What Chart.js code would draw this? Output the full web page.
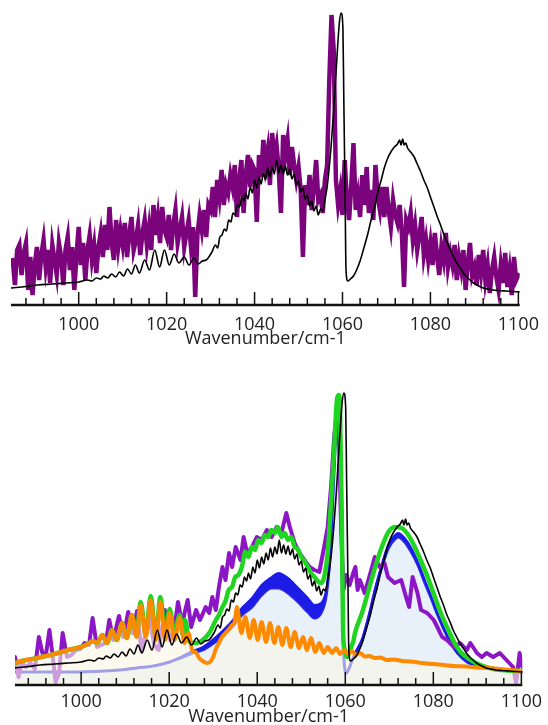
<!DOCTYPE html>
<html>
<head>
<meta charset="utf-8">
<script src="https://cdn.jsdelivr.net/npm/chart.js@4.4.1/dist/chart.umd.min.js"></script>
<style>
  body { margin: 0; background: #fff; }
  .box { position: absolute; left: 0; }
  #topBox { top: 0; }
  #botBox { top: 380px; }
</style>
</head>
<body>
<div class="box" id="topBox"><canvas id="topChart" width="548" height="350"></canvas></div>
<div class="box" id="botBox"><canvas id="botChart" width="548" height="345"></canvas></div>
<script>
// axis labels
var majorTicks = [1000, 1020, 1040, 1060, 1080, 1100];
var minorStep = 4;
var axisTitle = 'Wavenumber/cm-1';

// upper panel, measured spectrum (purple), sampled every 0.5 cm-1 from 985
var purpleTopStart = 985, purpleTopStep = 0.5;
var purpleTop = [
  45, 20, 55, 60, 30, 52, 62, 15, 48, 10,
  40, 58, 25, 50, 65, 38, 55, 22, 60, 45,
  30, 62, 48, 20, 55, 68, 35, 58, 15, 50,
  78, 40, 62, 25, 55, 70, 45, 60, 32, 58,
  72, 48, 80, 55, 98, 62, 45, 85, 58, 75,
  60, 82, 48, 70, 88, 55, 65, 80, 50, 72,
  85, 60, 78, 55, 100, 70, 88, 62, 98, 75,
  68, 90, 55, 80, 95, 62, 75, 88, 58, 72,
  85, 60, 78, 8, 70, 90, 75, 95, 68, 100,
  95, 118, 88, 125, 108, 135, 100, 120, 112, 130,
  118, 140, 88, 125, 145, 92, 130, 150, 118, 140,
  135, 83, 150, 128, 165, 140, 155, 120, 172, 148,
  160, 135, 92, 170, 150, 165, 130, 158, 140, 125,
  138, 115, 48, 120, 100, 130, 95, 118, 145, 105,
  110, 92, 125, 140, 225, 290, 255, 125, 100, 115,
  90, 145, 105, 85, 120, 162, 95, 110, 88, 130,
  100, 138, 92, 115, 85, 140, 108, 95, 118, 88,
  118, 95, 78, 105, 90, 82, 100, 72, 18, 85,
  78, 92, 65, 80, 55, 70, 88, 50, 65, 45,
  62, 40, 72, 50, 30, 58, 45, 72, 38, 52,
  40, 60, 25, 48, 35, 55, 15, 42, 62, 30,
  38, 20, 50, 32, 55, 25, 40, 12, 35, 48,
  28, 15, 40, 22, 52, 18, 35, 10, 48, 25,
  30
];

// simulated spectrum (black), used in both panels: [wavenumber, intensity]
var blackSpec = [
  [984.7,17],[988,18.5],[990.7,20],[994,21],[997,22],[1000,23],[1002,25],[1003,24],[1004,27],[1005,26],
  [1005.7,29],[1006.6,27],[1007.5,31],[1008.4,28],[1009.3,33],[1010.2,29],[1011.1,36],[1012,31],[1012.9,40],[1013.8,32],
  [1015,45],[1016.1,35],[1017.3,55],[1018.4,38],[1019.5,55],[1020.6,40],[1021.7,51],[1022.8,42],[1024,48],[1025.1,40],
  [1026.2,47],[1027.2,41],[1028.1,44],[1029,45],[1029.6,48],[1030.3,53],[1031.1,60],[1031.6,57],[1032.1,68],[1032.6,70],
  [1033.1,76],[1033.6,74],[1034.1,85],[1034.6,83],[1035.1,92],[1035.6,90],[1036.1,100],[1036.6,98],[1037.1,108],[1037.6,104],
  [1038,112],[1038.5,106],[1039,118],[1039.5,112],[1040,125],[1040.5,117],[1041,128],[1041.5,121],[1042,132],[1042.5,125],
  [1043,137],[1043.5,128],[1044,138],[1044.5,131],[1045,145],[1045.5,132],[1046,140],[1046.5,131],[1047,139],[1047.5,130],
  [1048,136],[1048.5,126],[1049,131],[1049.5,120],[1050,124],[1050.5,113],[1051,117],[1051.5,106],[1052,110],[1052.5,99],
  [1053,104],[1053.5,94],[1054,99],[1054.5,90],[1055,96],[1055.5,94],[1056,105],[1056.5,118],[1057.2,148],[1058,195],
  [1058.7,245],[1059.3,283],[1059.7,292],[1060.1,276],[1060.3,205],[1060.6,105],[1060.8,35],[1061.2,24],[1061.8,26],[1062.5,29],
  [1063.2,35],[1064,44],[1064.8,56],[1065.8,72],[1066.5,85],[1067.3,98],[1068,112],[1068.8,125],[1069.5,137],[1070.3,147],
  [1071,153],[1071.8,158],[1072.5,161],[1073,165],[1073.3,160],[1073.7,166],[1074,160],[1074.4,162],[1074.8,157],[1075.5,153],
  [1076.3,148],[1077,141],[1077.8,133],[1078.5,125],[1079.3,117],[1080,108],[1080.8,98],[1081.5,89],[1082.3,80],[1083,71],
  [1083.8,63],[1084.5,55],[1085.3,48],[1086,42],[1086.8,37],[1087.5,32],[1088.3,28],[1089,25],[1089.8,22],[1091,19],
  [1092,17],[1093,16],[1094.2,15],[1095.5,14.5],[1097.2,14],[1099,13.5],[1100.3,13]
];

// lower panel, measured spectrum (violet)
var purpleBot = [
  [985,28],[985.8,8],[986.5,22],[987.5,18],[988.5,22],[989.5,16],[990.4,48],[991.2,32],[992,30],[992.8,55],
  [993.5,30],[994.2,3],[995,12],[995.8,52],[996.8,28],[997.8,30],[998.8,35],[999.8,36],[1000.8,42],[1001.8,40],
  [1002.6,67],[1003.6,38],[1004.6,40],[1005.6,42],[1006.4,65],[1007.3,45],[1008.6,69],[1009.6,48],[1010.7,73],[1011.7,52],
  [1012.7,74],[1013.7,35],[1014.6,50],[1015.5,67],[1016.6,40],[1017.6,35],[1019,75],[1020.2,45],[1021,50],[1022,83],
  [1023,60],[1023.5,72],[1024.2,85],[1025,58],[1026.1,75],[1027,65],[1028.3,78],[1029.1,72],[1029.8,88],[1030.6,75],
  [1031.3,98],[1032.1,118],[1032.8,105],[1033.6,132],[1034.3,118],[1035.1,138],[1036.2,125],[1036.9,148],[1037.7,132],[1038.8,138],
  [1039.9,148],[1041,145],[1042.2,155],[1043.3,148],[1044.4,158],[1045.5,152],[1046.6,172],[1047.4,158],[1048.5,142],[1049.6,132],
  [1050.7,125],[1051.9,118],[1053,115],[1054.1,113],[1055.2,138],[1056,158],[1056.8,200],[1057.5,250],[1058.1,272],[1058.6,240],
  [1059.1,150],[1059.6,95],[1060.2,110],[1061,100],[1061.8,112],[1062.3,118],[1062.8,95],[1063.3,105],[1064.4,92],[1065.9,115],
  [1066.7,128],[1067.8,118],[1068.9,122],[1069.7,108],[1071.2,102],[1072.7,105],[1073.8,88],[1074.5,78],[1075.3,108],[1076.4,92],
  [1077.2,75],[1078.6,72],[1080.1,65],[1080.9,58],[1082,48],[1083.1,45],[1084.6,38],[1086.1,42],[1087.6,35],[1088.4,42],
  [1089.9,32],[1091,28],[1092.1,32],[1093.6,28],[1095.1,32],[1096.6,25],[1098.1,18],[1098.8,2],[1099.6,32],[1100.2,18]
];

// lower panel, total fit (green); below 1013 it runs on the orange component
var greenFit = [
  [985,22],[987.5,25],[990,27],[993,30],[995.5,33],[998,36],[1000,38],[1001.5,41],[1002.6,44],[1003.7,42],
  [1004.8,50],[1005.9,42],[1007,55],[1008.1,45],[1009.3,62],[1010.4,47],[1011.5,70],[1012.6,49],[1013.5,83],[1014.7,50],
  [1015.8,89],[1017,48],[1018,88],[1019.1,50],[1020.1,76],[1021.2,52],[1022.4,70],[1023.1,50],[1023.6,65],[1024.6,43],
  [1026.1,42],[1027.6,45],[1029.1,52],[1030.6,65],[1031.3,70],[1032.1,78],[1032.8,84],[1033.5,95],[1034.3,98],[1035,108],
  [1035.7,110],[1036.5,118],[1037.3,133],[1038,128],[1038.8,138],[1039.5,135],[1040.2,145],[1041,142],[1041.7,150],[1042.5,148],
  [1043.2,155],[1044,152],[1044.7,158],[1045.5,148],[1046.2,152],[1047,145],[1047.7,148],[1048.5,138],[1049.2,136],[1050,128],
  [1050.7,124],[1051.5,118],[1052.2,112],[1053,108],[1053.7,104],[1054.5,102],[1055.2,108],[1056,132],[1056.7,178],[1057.5,238],
  [1058.1,285],[1058.5,290],[1058.8,275],[1059.2,172],[1059.5,55],[1059.9,35],[1060.4,28],[1061.1,35],[1061.9,45],[1062.2,52],
  [1063.8,72],[1065.3,95],[1066.8,118],[1068.3,138],[1069.8,153],[1071.3,158],[1072.8,157],[1074.3,150],[1075.8,138],[1077.3,123],
  [1078.8,107],[1080.2,90],[1081.7,72],[1083.2,57],[1084.7,43],[1086.2,33],[1088.5,25],[1090.7,20],[1093.7,16],[1097,14.5],
  [1100.3,14]
];

// lower panel, component 1 (blue): lower edge and upper edge of the band
var blueLow = [
  [985,13],[990,13],[997.7,13],[1005.2,14],[1010,15.5],[1012.6,17],[1016.4,19],[1020.1,23],[1023.1,28],[1025.3,32],
  [1027.6,35],[1029.8,41],[1032.1,49],[1034.3,58],[1036.5,70],[1038.8,78],[1041,90],[1043.3,97],[1044.8,97],[1047,92],
  [1049.3,83],[1051.5,73],[1053,67],[1054.5,72],[1055.5,85],[1056.2,110],[1057,170],[1057.8,250],[1058.3,285],[1058.7,270],
  [1059.1,160],[1059.5,50],[1059.9,16],[1060.3,12],[1060.8,16],[1061.5,24],[1062.3,32],[1063.8,45],[1065.3,68],[1066.8,95],
  [1068.3,118],[1069.8,137],[1071.3,146],[1072,148],[1073.5,143],[1075,133],[1076.5,120],[1078,103],[1079.5,87],[1081,70],
  [1082.5,55],[1084,42],[1085.5,32],[1087.7,23],[1090,19],[1093.7,16],[1097,14],[1100.3,13]
];
var blueHigh = [
  [985,13],[990,13],[997.7,13],[1005.2,14],[1010,15.5],[1012.6,17],[1016.4,19],[1020.1,23],[1023.1,29],[1025.3,34],
  [1027.6,38],[1029.8,45],[1032.1,54],[1034.3,64],[1036.5,77],[1038.8,87],[1041,100],[1043.3,108],[1044.8,112],[1047,107],
  [1049.3,97],[1051.5,87],[1053,80],[1054.5,82],[1055.5,92],[1056.2,112],[1057,170],[1057.8,250],[1058.3,285],[1058.7,270],
  [1059.1,160],[1059.5,50],[1059.9,16],[1060.3,12],[1060.8,16],[1061.5,24],[1062.3,32],[1063.8,45],[1065.3,68],[1066.8,97],
  [1068.3,121],[1069.8,141],[1071.3,150],[1072,152],[1073.5,147],[1075,137],[1076.5,123],[1078,106],[1079.5,89],[1081,71],
  [1082.5,55],[1084,42],[1085.5,32],[1087.7,23],[1090,19],[1093.7,16],[1097,14],[1100.3,13]
];

// lower panel, component 2 (orange)
var orangeComp = [
  [985,22],[987.5,25],[990,27],[993,30],[995.5,33],[998,36],[1000,38],[1001.5,41],[1002.6,44],[1003.7,42],
  [1004.8,50],[1005.9,42],[1007,55],[1008.1,45],[1009.3,62],[1010.4,47],[1011.5,70],[1012.6,48],[1013.5,80],[1014.7,48],
  [1015.8,85],[1017,45],[1018,83],[1019.1,45],[1020.1,72],[1021.2,45],[1022.4,67],[1023.5,42],[1024.4,52],[1025.3,34],
  [1026,33],[1026.8,27],[1027.6,24],[1028.5,22],[1029.3,23],[1030,28],[1030.6,36],[1031.3,42],[1032,48],[1032.8,52],
  [1033.6,56],[1034.3,60],[1034.8,62],[1035.4,78],[1036.4,52],[1037.3,68],[1038.3,47],[1039.2,65],[1040.1,45],[1041,63],
  [1042,43],[1042.9,62],[1043.9,42],[1044.8,58],[1045.7,40],[1046.6,57],[1047.6,38],[1048.5,53],[1049.5,37],[1050.4,48],
  [1051.3,35],[1052.2,47],[1053.2,33],[1054.1,42],[1055.1,32],[1056,38],[1057,32],[1057.9,37],[1058.8,31],[1059.7,35],
  [1060.6,31],[1061.5,34],[1062.4,30],[1063.3,32],[1064.5,28.5],[1065.5,29],[1066.7,27],[1068,27.5],[1069.5,25],[1071,25.5],
  [1073,24],[1075,23.5],[1077.3,22],[1080,21],[1082.5,20],[1084.7,19],[1087.5,18.5],[1090,17.5],[1092.2,17],[1095,16],
  [1097.5,15],[1100.3,14]
];

var fontFam = '"Open Sans", "Noto Sans", sans-serif';

// axis line with short inward ticks
var innerTicks = {
  id: 'innerTicks',
  afterDatasetsDraw: function(chart) {
    var ctx = chart.ctx, a = chart.chartArea, x = chart.scales.x;
    ctx.save();
    ctx.strokeStyle = '#111';
    ctx.lineWidth = 1.5;
    ctx.beginPath();
    for (var v = Math.ceil(x.min / minorStep) * minorStep; v <= x.max; v += minorStep) {
      var px = x.getPixelForValue(v);
      var len = majorTicks.indexOf(v) >= 0 ? 13 : 7;
      ctx.moveTo(px, a.bottom);
      ctx.lineTo(px, a.bottom - len);
    }
    ctx.stroke();
    ctx.lineWidth = 2.5;
    ctx.beginPath();
    ctx.moveTo(a.left, a.bottom);
    ctx.lineTo(a.right, a.bottom);
    ctx.stroke();
    ctx.restore();
  }
};

function xAxis(min, max, h, tickPad, titlePad) {
  return {
    type: 'linear', min: min, max: max,
    afterBuildTicks: function(s) { s.ticks = majorTicks.map(function(v) { return {value: v}; }); },
    afterFit: function(s) { s.height = h; },
    grid: {display: false, drawTicks: false},
    border: {display: false},
    ticks: {
      padding: tickPad, color: '#222', maxRotation: 0, autoSkip: false,
      font: {family: fontFam, size: 18},
      callback: function(v) { return String(v); }
    },
    title: {display: true, text: axisTitle, color: '#222', padding: titlePad, font: {family: fontFam, size: 18}}
  };
}

function baseOptions(min, max, pad, h, tickPad, titlePad) {
  return {
    responsive: false, animation: false, devicePixelRatio: 1,
    layout: {padding: pad},
    plugins: {legend: {display: false}, tooltip: {enabled: false}},
    elements: {point: {radius: 0}, line: {borderJoinStyle: 'round', borderCapStyle: 'round', tension: 0}},
    scales: {
      x: xAxis(min, max, h, tickPad, titlePad),
      y: {display: false, min: 0, max: 295}
    }
  };
}

new Chart(document.getElementById('topChart'), {
  type: 'line',
  data: {
    datasets: [
      {
        label: 'simulated', data: blackSpec, order: 1,
        borderColor: '#000', borderWidth: 1.6, cubicInterpolationMode: 'monotone', fill: false
      },
      {
        label: 'measured',
        data: purpleTop.map(function(v, i) { return [purpleTopStart + i * purpleTopStep, v]; }),
        order: 2, borderColor: '#7b037b', borderWidth: 4.5, borderJoinStyle: 'miter', fill: false
      }
    ]
  },
  options: baseOptions(984.6, 1100.3, {left: 11, right: 21, top: 10, bottom: 0}, 45, 9, 0),
  plugins: [innerTicks]
});

new Chart(document.getElementById('botChart'), {
  type: 'line',
  data: {
    datasets: [
      {
        label: 'simulated', data: blackSpec, order: 1,
        borderColor: '#000', borderWidth: 1.6, cubicInterpolationMode: 'monotone', fill: false
      },
      {
        label: 'component 2', data: orangeComp, order: 2,
        borderColor: '#ff8a00', borderWidth: 4, cubicInterpolationMode: 'monotone', fill: false
      },
      {
        label: 'total fit', data: greenFit, order: 3,
        borderColor: '#22d422', borderWidth: 4.5, cubicInterpolationMode: 'monotone', fill: false
      },
      {
        label: 'component 2 area', data: orangeComp, order: 4,
        borderWidth: 0, borderColor: 'rgba(0,0,0,0)', cubicInterpolationMode: 'monotone',
        fill: 'origin', backgroundColor: 'rgba(250,246,228,0.6)'
      },
      {
        label: 'measured', data: purpleBot, order: 5,
        borderColor: '#8c16c6', borderWidth: 4, fill: false
      },
      {
        label: 'component 1 band', data: blueHigh, order: 6,
        borderColor: '#1c1ce6', borderWidth: 2, cubicInterpolationMode: 'monotone',
        fill: '+1', backgroundColor: '#1c1ce6'
      },
      {
        label: 'component 1', data: blueLow, order: 7,
        borderColor: '#2a2ae6', borderWidth: 3, cubicInterpolationMode: 'monotone',
        fill: 'origin', backgroundColor: '#e8f1f9'
      }
    ]
  },
  options: baseOptions(984.98, 1100.2, {left: 15, right: 20, top: 10, bottom: 0}, 40, 6, {top: 0, bottom: -3}),
  plugins: [innerTicks]
});
</script>
</body>
</html>
